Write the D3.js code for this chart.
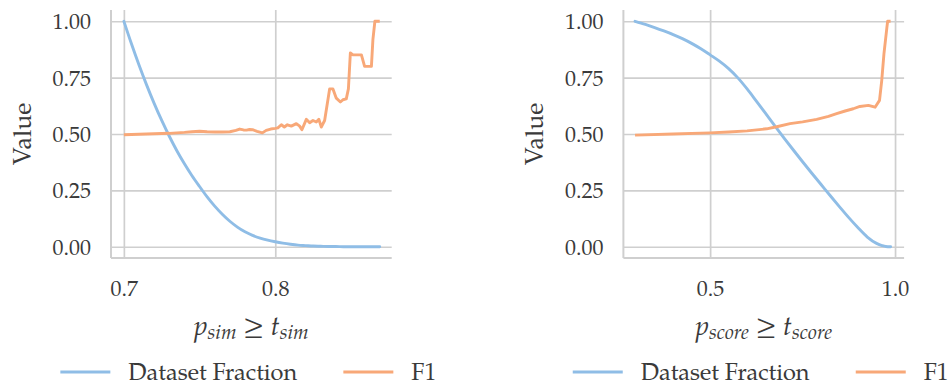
<!DOCTYPE html>
<html>
<head>
<meta charset="utf-8">
<script src="https://cdn.jsdelivr.net/npm/d3@7"></script>
<style>
  html, body { margin: 0; padding: 0; background: #fff; }
  svg { display: block; }
  text { font-family: "Palatino Linotype", "TeX Gyre Pagella", "Liberation Serif", serif; fill: #3a3a3a; }
</style>
</head>
<body>
<svg id="chart" width="949" height="391"></svg>
<script>
// ---------- data ----------
const seriesNames = ["Dataset Fraction", "F1"];
const seriesColors = ["#8fbde6", "#f8a878"];
const yTicks = [0, 0.25, 0.5, 0.75, 1.0];
const yTickLabels = ["0.00", "0.25", "0.50", "0.75", "1.00"];

// left panel: p_sim >= t_sim
const simTicks = [0.7, 0.8];
const simTickLabels = ["0.7", "0.8"];
const simFractionX = [0.700,0.705,0.710,0.715,0.720,0.725,0.730,0.735,0.740,0.745,0.750,0.755,0.760,0.765,0.770,0.775,0.780,0.785,0.790,0.795,0.800,0.805,0.810,0.815,0.820,0.825,0.830,0.835,0.840,0.845,0.850,0.855,0.860,0.865,0.869];
const simFractionY = [1.000,0.900,0.806,0.718,0.636,0.560,0.490,0.426,0.368,0.315,0.267,0.221,0.180,0.144,0.113,0.087,0.066,0.050,0.038,0.029,0.022,0.016,0.011,0.007,0.005,0.003,0.002,0.001,0.001,0.000,0.000,0.000,0.000,0.000,0.000];
const simF1X = [0.700,0.710,0.720,0.730,0.740,0.745,0.750,0.755,0.760,0.765,0.770,0.774,0.7765,0.779,0.781,0.783,0.785,0.788,0.7915,0.794,0.797,0.800,0.8017,0.804,0.806,0.808,0.8106,0.8139,0.8161,0.8176,0.8205,0.8227,0.8249,0.8271,0.8288,0.8304,0.8326,0.8359,0.8381,0.8403,0.843,0.8447,0.8469,0.8483,0.8496,0.8513,0.8569,0.859,0.8635,0.8645,0.8658,0.869];
const simF1Y = [0.497,0.499,0.501,0.503,0.507,0.510,0.512,0.510,0.509,0.509,0.510,0.516,0.522,0.518,0.517,0.520,0.519,0.512,0.505,0.516,0.522,0.525,0.527,0.541,0.531,0.541,0.535,0.546,0.535,0.519,0.565,0.550,0.560,0.553,0.565,0.531,0.560,0.700,0.700,0.659,0.642,0.652,0.656,0.700,0.860,0.851,0.851,0.800,0.800,0.920,1.000,1.000];

// right panel: p_score >= t_score
const scoreTicks = [0.5, 1.0];
const scoreTickLabels = ["0.5", "1.0"];
const scoreFractionX = [0.297,0.325,0.350,0.375,0.400,0.425,0.450,0.475,0.500,0.525,0.550,0.575,0.600,0.625,0.650,0.675,0.700,0.725,0.750,0.775,0.800,0.825,0.850,0.875,0.900,0.925,0.950,0.965,0.975,0.988];
const scoreFractionY = [1.000,0.986,0.972,0.957,0.941,0.923,0.902,0.878,0.851,0.823,0.790,0.749,0.700,0.646,0.591,0.536,0.482,0.429,0.377,0.326,0.276,0.226,0.177,0.129,0.084,0.043,0.015,0.005,0.001,0.000];
const scoreF1X = [0.297,0.400,0.500,0.550,0.600,0.653,0.680,0.716,0.750,0.788,0.820,0.842,0.865,0.887,0.905,0.928,0.946,0.958,0.964,0.970,0.978,0.980,0.988];
const scoreF1Y = [0.495,0.500,0.505,0.509,0.514,0.523,0.532,0.546,0.554,0.565,0.578,0.590,0.602,0.612,0.622,0.627,0.619,0.649,0.737,0.855,0.973,1.000,1.000];

// ---------- drawing ----------
const svg = d3.select("#chart");
const gridColor = "#cfcfcf";

function panel(opts) {
  const { left, right, xDomain, xTicks, xTickLabels, fracX, fracY, f1X, f1Y, labelMain, labelSub } = opts;
  const top = 10, bottom = 258;
  const x = d3.scaleLinear().domain(xDomain).range([left, right]);
  const y = d3.scaleLinear().domain([-0.05, 1.05]).range([bottom, top]);
  const g = svg.append("g");

  // grid
  const yAxis = d3.axisLeft(y).tickValues(yTicks).tickSize(-(right - left)).tickFormat((d, i) => yTickLabels[i]).tickPadding(20);
  const yg = g.append("g").attr("transform", `translate(${left},0)`).call(yAxis);
  yg.select(".domain").remove();
  yg.selectAll("line").attr("stroke", gridColor).attr("stroke-width", 1.7);
  yg.selectAll("text").attr("font-size", 22).attr("fill", "#3a3a3a").attr("dy", "0.34em");

  const xAxis = d3.axisBottom(x).tickValues(xTicks).tickSize(-(bottom - top)).tickFormat((d, i) => xTickLabels[i]).tickPadding(22);
  const xg = g.append("g").attr("transform", `translate(0,${bottom})`).call(xAxis);
  xg.select(".domain").remove();
  xg.selectAll("line").attr("stroke", gridColor).attr("stroke-width", 1.7);
  xg.selectAll("text").attr("font-size", 22).attr("fill", "#3a3a3a").attr("dy", "0.71em");

  // spines
  g.append("line").attr("x1", left).attr("x2", left).attr("y1", top).attr("y2", bottom)
    .attr("stroke", gridColor).attr("stroke-width", 2);
  g.append("line").attr("x1", left).attr("x2", right).attr("y1", bottom).attr("y2", bottom)
    .attr("stroke", gridColor).attr("stroke-width", 2);

  // lines
  const fracData = fracX.map((v, i) => [v, fracY[i]]);
  const f1Data = f1X.map((v, i) => [v, f1Y[i]]);
  g.append("path").datum(fracData)
    .attr("fill", "none").attr("stroke", seriesColors[0]).attr("stroke-width", 2.9)
    .attr("stroke-linejoin", "round").attr("stroke-linecap", "round")
    .attr("d", d3.line().x(d => x(d[0])).y(d => y(d[1])).curve(d3.curveMonotoneX));
  g.append("path").datum(f1Data)
    .attr("fill", "none").attr("stroke", seriesColors[1]).attr("stroke-width", 2.9)
    .attr("stroke-linejoin", "round").attr("stroke-linecap", "butt")
    .attr("d", d3.line().x(d => x(d[0])).y(d => y(d[1])));

  // y label
  g.append("text")
    .attr("transform", `translate(${left - 89},${(y(0) + y(1)) / 2}) rotate(-90)`)
    .attr("text-anchor", "middle").attr("font-size", 25).attr("dy", "0.35em")
    .text("Value");

  // x label
  const cx = (left + right) / 2;
  const xl = g.append("text").attr("x", cx).attr("y", 335).attr("text-anchor", "middle").attr("font-size", 27);
  xl.append("tspan").attr("font-style", "italic").text(labelMain[0]);
  xl.append("tspan").attr("font-style", "italic").attr("font-size", 20).attr("dy", 4).text(labelSub);
  xl.append("tspan").attr("dy", -4).text(" \u2265 ");
  xl.append("tspan").attr("font-style", "italic").text(labelMain[1]);
  xl.append("tspan").attr("font-style", "italic").attr("font-size", 20).attr("dy", 4).text(labelSub);

  // legend
  const ly = 372;
  const starts = [cx - 191, cx + 92];
  seriesNames.forEach((name, i) => {
    g.append("line").attr("x1", starts[i]).attr("x2", starts[i] + 50).attr("y1", ly).attr("y2", ly)
      .attr("stroke", seriesColors[i]).attr("stroke-width", 2.9);
    g.append("text").attr("x", starts[i] + 68).attr("y", ly).attr("dy", "0.35em")
      .attr("font-size", 23.5).text(name);
  });
}

panel({ left: 111, right: 391.7, xDomain: [0.6915, 0.8769],
  xTicks: simTicks, xTickLabels: simTickLabels,
  fracX: simFractionX, fracY: simFractionY, f1X: simF1X, f1Y: simF1Y,
  labelMain: ["p", "t"], labelSub: "sim" });

panel({ left: 623.4, right: 904.1, xDomain: [0.2655, 1.0245],
  xTicks: scoreTicks, xTickLabels: scoreTickLabels,
  fracX: scoreFractionX, fracY: scoreFractionY, f1X: scoreF1X, f1Y: scoreF1Y,
  labelMain: ["p", "t"], labelSub: "score" });
</script>
</body>
</html>
